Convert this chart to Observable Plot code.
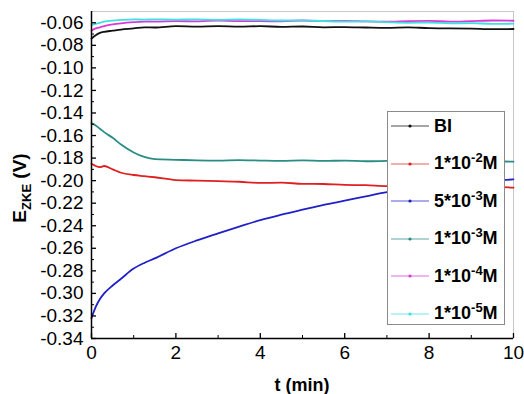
<!DOCTYPE html>
<html><head><meta charset="utf-8">
<script src="https://cdn.jsdelivr.net/npm/d3@7"></script>
<script src="https://cdn.jsdelivr.net/npm/@observablehq/plot@0.6"></script>
<style>
body{margin:0;background:#fff;}
#wrap{position:relative;width:524px;height:394px;font-family:"Liberation Sans",Arial,sans-serif;}
#legend{position:absolute;left:387px;top:111px;width:118px;height:214px;border:1px solid #8a8a8a;background:#fff;box-sizing:border-box;}
.row{position:absolute;left:0;height:24px;display:flex;align-items:center;font-weight:bold;font-size:18px;white-space:nowrap;color:#000;}
.row sup{font-size:13px;vertical-align:7px;line-height:0;}
.row svg{display:block;}
</style></head><body><div id="wrap"></div>
<script>
const t = [0,0.1,0.2,0.3,0.5,0.7,1,1.25,1.5,2,2.5,3,3.5,4,4.5,5,5.5,6,6.5,7,7.5,8,8.5,9,9.5,10];
const names = ["BI","1e-2","5e-3","1e-3","1e-4","1e-5"];
const legendBase = ["BI","1*10","5*10","1*10","1*10","1*10"];
const legendExp = [null,"-2","-3","-3","-4","-5"];
const colors = ["#111111","#e02020","#2020c8","#2a8c86","#d83ad8","#3fe0e0"];
const vBI  = [-0.074,-0.071,-0.069,-0.068,-0.067,-0.066,-0.065,-0.064,-0.0642,-0.063,-0.0635,-0.063,-0.0635,-0.063,-0.0636,-0.0633,-0.064,-0.0638,-0.0642,-0.0645,-0.064,-0.0648,-0.065,-0.0652,-0.0657,-0.0655];
const v1e2 = [-0.185,-0.187,-0.188,-0.187,-0.190,-0.193,-0.195,-0.196,-0.197,-0.1995,-0.200,-0.2005,-0.201,-0.202,-0.2018,-0.2028,-0.203,-0.2038,-0.204,-0.2048,-0.2045,-0.205,-0.2052,-0.2058,-0.2055,-0.2062];
const v5e3 = [-0.322,-0.312,-0.305,-0.300,-0.293,-0.287,-0.278,-0.273,-0.269,-0.260,-0.2530,-0.2468,-0.2408,-0.2350,-0.2302,-0.2258,-0.2215,-0.2178,-0.2140,-0.2102,-0.2078,-0.2058,-0.2040,-0.2020,-0.2003,-0.1988];
const v1e3 = [-0.149,-0.151,-0.154,-0.157,-0.162,-0.168,-0.175,-0.179,-0.181,-0.1815,-0.182,-0.1822,-0.1818,-0.1822,-0.1825,-0.182,-0.1825,-0.1822,-0.1828,-0.1825,-0.1822,-0.1828,-0.1825,-0.183,-0.1828,-0.1832];
const v1e4 = [-0.067,-0.065,-0.064,-0.063,-0.0615,-0.0605,-0.0595,-0.059,-0.059,-0.0585,-0.0588,-0.058,-0.0585,-0.0585,-0.0588,-0.058,-0.0585,-0.0583,-0.0588,-0.059,-0.0585,-0.0583,-0.059,-0.0585,-0.058,-0.0582];
const v1e5 = [-0.062,-0.061,-0.060,-0.059,-0.058,-0.0575,-0.057,-0.0572,-0.057,-0.0572,-0.057,-0.0575,-0.057,-0.0575,-0.058,-0.0578,-0.0585,-0.059,-0.0588,-0.0595,-0.060,-0.0598,-0.0605,-0.0603,-0.061,-0.0608];
const yMajor = [-0.34,-0.32,-0.30,-0.28,-0.26,-0.24,-0.22,-0.20,-0.18,-0.16,-0.14,-0.12,-0.10,-0.08,-0.06];
const yMinor = [-0.33,-0.31,-0.29,-0.27,-0.25,-0.23,-0.21,-0.19,-0.17,-0.15,-0.13,-0.11,-0.09,-0.07];
const xMajor = [0,2,4,6,8,10];
const xMinor = [1,3,5,7,9];

const seriesVals = [vBI,v1e2,v5e3,v1e3,v1e4,v1e5];
const rows = [];
seriesVals.forEach((vals,k)=>vals.forEach((v,i)=>rows.push({t:t[i], v, s:names[k]})));

const chart = Plot.plot({
  width:524, height:394, marginLeft:91, marginRight:11, marginTop:11, marginBottom:56,
  style:{fontFamily:"'Liberation Sans', Arial, sans-serif", fontSize:"19px", color:"#000", background:"#fff"},
  x:{domain:[0,10]},
  y:{domain:[-0.34,-0.05]},
  color:{domain:names, range:colors},
  marks:[
    Plot.frame({stroke:"#c8c8c8"}),
    Plot.line(rows,{x:"t", y:"v", z:"s", stroke:"s", strokeWidth:1.8, curve:"monotone-x"}),
    Plot.ruleX([0],{stroke:"#000", strokeWidth:1.5}),
    Plot.ruleY([-0.34],{stroke:"#000", strokeWidth:1.5}),
    Plot.axisY({ticks:yMajor, tickSize:0, tickPadding:8, tickFormat:d=>d.toFixed(2), label:null, fontSize:19}),
    Plot.axisY({ticks:yMajor, tickSize:-5, fill:"none", label:null, strokeWidth:1.3}),
    Plot.axisY({ticks:yMinor, tickSize:-3, fill:"none", label:null}),
    Plot.axisX({ticks:xMajor, tickSize:0, tickPadding:7, tickFormat:d=>String(d), label:null, fontSize:19}),
    Plot.axisX({ticks:xMajor, tickSize:-5, fill:"none", label:null, strokeWidth:1.3}),
    Plot.axisX({ticks:xMinor, tickSize:-3, fill:"none", label:null})
  ]
});

const svg = d3.select(chart);
const yl = svg.append("text").attr("transform","translate(26,188) rotate(-90)")
  .attr("text-anchor","middle").attr("font-weight","bold").attr("font-size",19).attr("fill","#000");
yl.append("tspan").text("E");
yl.append("tspan").attr("font-size",13).attr("dy",5).text("ZKE");
yl.append("tspan").attr("dy",-5).text(" (V)");
svg.append("text").attr("x",302).attr("y",391).attr("text-anchor","middle")
  .attr("font-weight","bold").attr("font-size",18).attr("fill","#000").text("t (min)");

const wrap = document.getElementById("wrap");
wrap.appendChild(chart);
const legend = document.createElement("div");
legend.id = "legend";
names.forEach((n,i)=>{
  const row = document.createElement("div");
  row.className = "row";
  row.style.top = (2 + i*37.5) + "px";
  const c = colors[i];
  row.innerHTML = `<svg width="46" height="10"><line x1="3" x2="41" y1="5" y2="5" stroke="${c}" stroke-opacity="0.75" stroke-width="1"/><circle cx="22" cy="5" r="1.6" fill="${c}"/></svg><span>${legendBase[i]}${legendExp[i]?`<sup>${legendExp[i]}</sup>M`:""}</span>`;
  legend.appendChild(row);
});
wrap.appendChild(legend);
</script>
</body></html>
